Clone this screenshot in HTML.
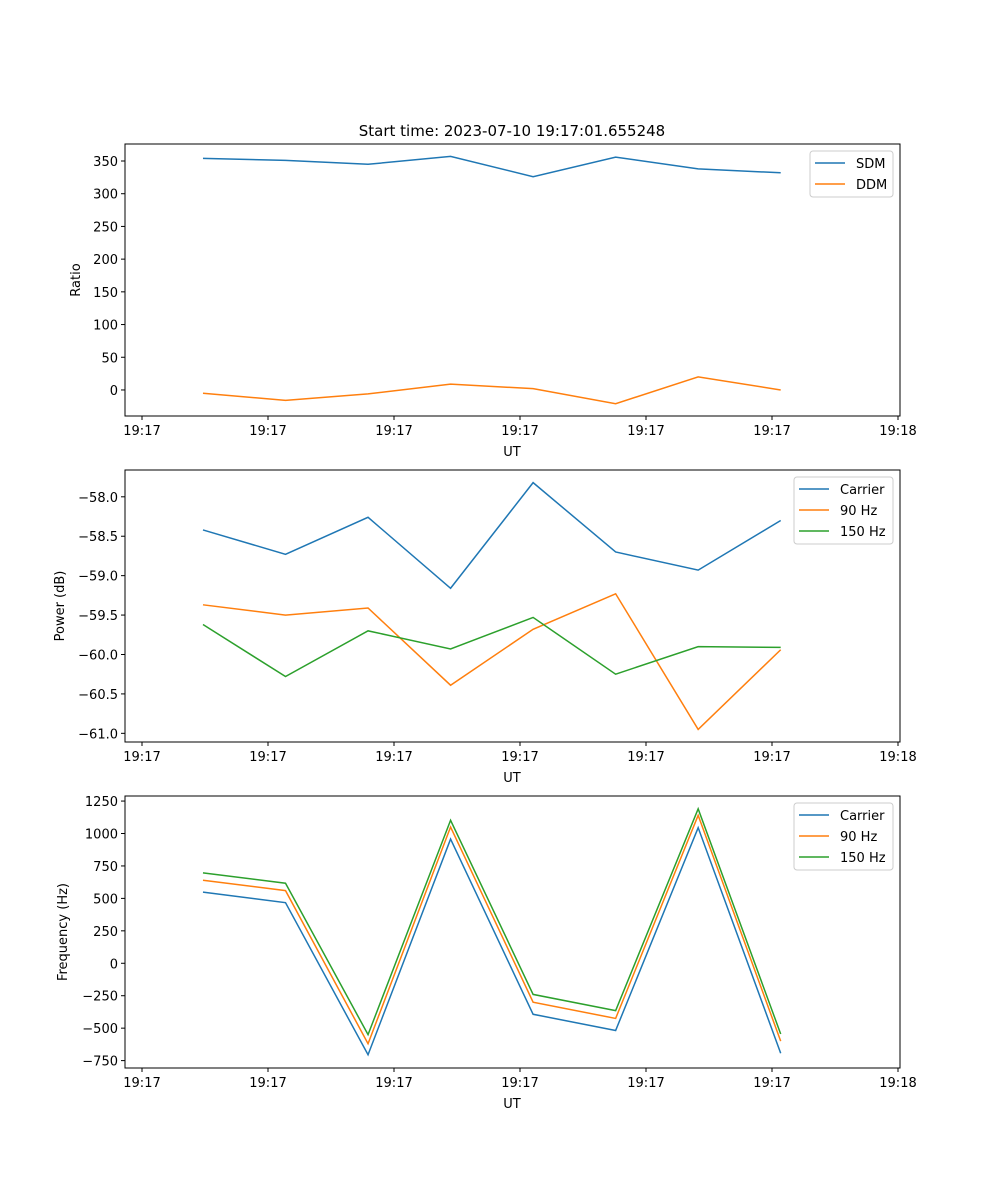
<!DOCTYPE html>
<html><head><meta charset="utf-8">
<style>
body{margin:0;background:#fff;}
svg{display:block;font-family:"DejaVu Sans","Liberation Sans",sans-serif;}
</style></head>
<body>
<svg id="chart" width="1000" height="1200" xmlns="http://www.w3.org/2000/svg">
<text x="512" y="136" font-size="15" text-anchor="middle">Start time: 2023-07-10 19:17:01.655248</text>
</svg>
<script>
const times = [4.84, 11.39, 17.94, 24.49, 31.04, 37.59, 44.14, 50.69];
const xTickValues = [0, 10, 20, 30, 40, 50, 60];
const xTickLabels = ["19:17","19:17","19:17","19:17","19:17","19:17","19:18"];
const sdm = [354, 351, 345, 357, 326, 356, 338, 332];
const ddm = [-5, -16, -6, 9, 2, -21, 20, 0];
const ratioTicks = [0, 50, 100, 150, 200, 250, 300, 350];
const powCarrier = [-58.42, -58.73, -58.26, -59.16, -57.82, -58.70, -58.93, -58.30];
const pow90 = [-59.37, -59.50, -59.41, -60.39, -59.68, -59.23, -60.95, -59.94];
const pow150 = [-59.62, -60.28, -59.70, -59.93, -59.53, -60.25, -59.90, -59.91];
const powTicks = [-61.0, -60.5, -60.0, -59.5, -59.0, -58.5, -58.0];
const freqCarrier = [548, 467, -705, 957, -393, -518, 1045, -693];
const freq90 = [640, 560, -620, 1050, -300, -425, 1140, -600];
const freq150 = [697, 617, -550, 1102, -240, -365, 1190, -545];
const freqTicks = [-750, -500, -250, 0, 250, 500, 750, 1000, 1250];

const NS = "http://www.w3.org/2000/svg";
const svg = document.getElementById("chart");
const C = ["#1f77b4", "#ff7f0e", "#2ca02c"];
function mk(tag, attrs, parent){const e=document.createElementNS(NS,tag);for(const k in attrs)e.setAttribute(k,attrs[k]);(parent||svg).appendChild(e);return e;}
const L=125,R=900;
const xs = v => 142 + v*12.6;

function panel(cfg){
  const g = mk("g",{});
  
  
  const ys = v => cfg.bot - (v - cfg.ymin)/(cfg.ymax - cfg.ymin)*(cfg.bot - cfg.top);
  cfg.series.forEach((s,si)=>{
    const p = mk("polyline",{points:s.vals.map((v,i)=>xs(times[i])+","+ys(v)).join(" "),fill:"none",stroke:C[si],"stroke-width":1.5},g);
    
    
  });
  const frame = mk("rect",{x:L,y:cfg.top,width:R-L,height:cfg.bot-cfg.top,fill:"none",stroke:"#000","stroke-width":1},g);
  
  
  xTickValues.forEach((v,i)=>{
    const x=xs(v);
    mk("line",{x1:x,x2:x,y1:cfg.bot,y2:cfg.bot+4,stroke:"#000"},g);
    const t=mk("text",{x:x,y:cfg.bot+19,"font-size":13,"text-anchor":"middle"},g);
    t.textContent=xTickLabels[i];
    
    
  });
  const xl=mk("text",{x:512,y:cfg.bot+40,"font-size":13,"text-anchor":"middle"},g);
  xl.textContent="UT";
  
  
  cfg.ticks.forEach(v=>{
    const y=ys(v);
    mk("line",{x1:L-4,x2:L,y1:y,y2:y,stroke:"#000"},g);
    const t=mk("text",{x:L-7,y:y+5,"font-size":13,"text-anchor":"end"},g);
    t.textContent=cfg.fmt(v);
    
    
  });
  const cy=(cfg.top+cfg.bot)/2;
  const yl=mk("text",{x:cfg.ylx,y:cy,"font-size":13,"text-anchor":"middle",transform:`rotate(-90 ${cfg.ylx} ${cy})`},g);
  yl.textContent=cfg.ylabel;
  
  
  const lg=mk("g",{},g);
  
  
  const lx=cfg.legX, ly=cfg.top+7, h=4+cfg.series.length*21;
  mk("rect",{x:lx,y:ly,width:893-lx,height:h,rx:3,fill:"#fff",stroke:"#ccc","fill-opacity":0.8},lg);
  cfg.series.forEach((s,si)=>{
    const yy=ly+12+si*21;
    mk("line",{x1:lx+5,x2:lx+35,y1:yy,y2:yy,stroke:C[si],"stroke-width":1.5},lg);
    const t=mk("text",{x:lx+46,y:yy+5,"font-size":13},lg);
    t.textContent=s.label;
    
    
  });
}
panel({name:"ratio-panel",top:144,bot:416,ymin:-39.8,ymax:376,ticks:ratioTicks,fmt:v=>String(v),ylabel:"Ratio",ylx:80,legX:810,
  series:[{id:"sdm",label:"SDM",vals:sdm},{id:"ddm",label:"DDM",vals:ddm}]});
panel({name:"power-panel",top:470,bot:742,ymin:-61.11,ymax:-57.66,ticks:powTicks,fmt:v=>(v<0?"\u2212":"")+Math.abs(v).toFixed(1),ylabel:"Power (dB)",ylx:64,legX:794,
  series:[{id:"carrier-power",label:"Carrier",vals:powCarrier},{id:"90hz-power",label:"90 Hz",vals:pow90},{id:"150hz-power",label:"150 Hz",vals:pow150}]});
panel({name:"frequency-panel",top:796,bot:1068,ymin:-807,ymax:1289,ticks:freqTicks,fmt:v=>(v<0?"\u2212":"")+Math.abs(v),ylabel:"Frequency (Hz)",ylx:67,legX:794,
  series:[{id:"carrier-frequency",label:"Carrier",vals:freqCarrier},{id:"90hz-frequency",label:"90 Hz",vals:freq90},{id:"150hz-frequency",label:"150 Hz",vals:freq150}]});
</script>
</body></html>
